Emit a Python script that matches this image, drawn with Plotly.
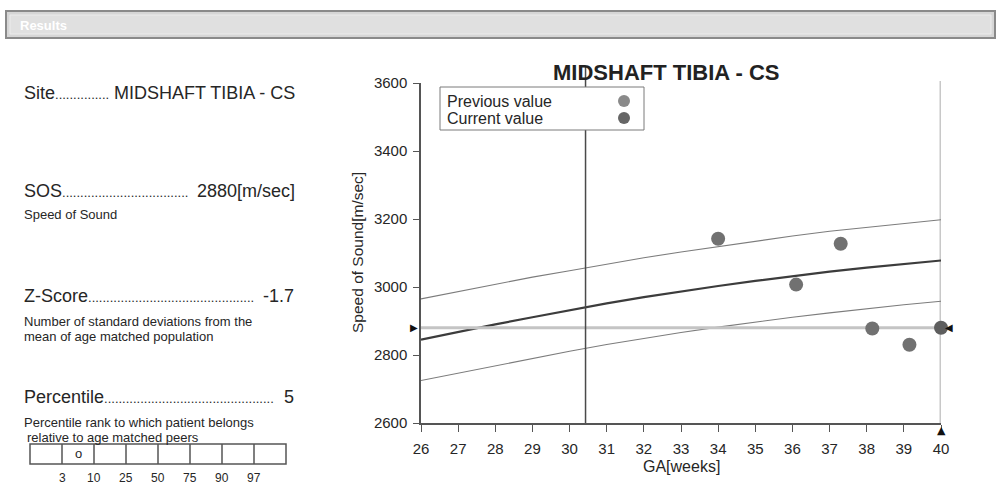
import plotly.graph_objects as go

# ---------------- data ----------------
site_name = "MIDSHAFT TIBIA - CS"
sos_value = 2880
z_score = -1.7
percentile = 5
percentile_bounds = [3, 10, 25, 50, 75, 90, 97]

weeks = [26, 27, 28, 29, 30, 31, 32, 33, 34, 35, 36, 37, 38, 39, 40]
mean_curve = [2845, 2868, 2890, 2911, 2932, 2952, 2970, 2987, 3003, 3018, 3032, 3045, 3057, 3068, 3078]
upper_curve = [2965, 2987, 3008, 3029, 3048, 3068, 3086, 3103, 3119, 3135, 3150, 3164, 3176, 3188, 3198]
lower_curve = [2725, 2747, 2769, 2790, 2811, 2831, 2849, 2866, 2882, 2897, 2911, 2924, 2937, 2948, 2958]

prev_ga = [34.0, 36.1, 37.3, 38.15, 39.15]
prev_sos = [3142, 3007, 3127, 2878, 2830]
current_ga = [40.0]
current_sos = [2880]
birth_ga = 30.43

y_ticks = [2600, 2800, 3000, 3200, 3400, 3600]
x_ticks = weeks

# ---------------- helpers ----------------
W, H = 1000, 485
FONT = "Liberation Sans, Arial, sans-serif"
TXT = "#262626"


def px(x):
    return x / W


def py(y):
    return (H - y) / H


fig = go.Figure()

# reference curves
fig.add_trace(go.Scatter(x=weeks, y=upper_curve, mode="lines",
                         line=dict(color="#7c7c7c", width=1.1), hoverinfo="skip"))
fig.add_trace(go.Scatter(x=weeks, y=lower_curve, mode="lines",
                         line=dict(color="#7c7c7c", width=1.1), hoverinfo="skip"))
fig.add_trace(go.Scatter(x=weeks, y=mean_curve, mode="lines",
                         line=dict(color="#3c3c3c", width=2.2), hoverinfo="skip"))
# current value horizontal line
fig.add_trace(go.Scatter(x=[weeks[0], weeks[-1]], y=[sos_value, sos_value], mode="lines",
                         line=dict(color="#c4c4c4", width=3), hoverinfo="skip"))
# measurement points
fig.add_trace(go.Scatter(x=prev_ga, y=prev_sos, mode="markers", cliponaxis=False,
                         marker=dict(size=14, color="#717171"), name="Previous value"))
fig.add_trace(go.Scatter(x=current_ga, y=current_sos, mode="markers", cliponaxis=False,
                         marker=dict(size=14, color="#5e5e5e"), name="Current value"))

shapes = []
annotations = []

# header bar
shapes.append(dict(type="rect", xref="paper", yref="paper", x0=px(6), x1=px(995), y0=py(38), y1=py(11),
                   fillcolor="#d6d6d6", line=dict(color="#8a8a8a", width=2), layer="below"))
shapes.append(dict(type="rect", xref="paper", yref="paper", x0=px(10), x1=px(991), y0=py(34), y1=py(15),
                   fillcolor="#e0e0e0", line=dict(color="#ececec", width=1), layer="below"))
annotations.append(dict(text="<b>Results</b>", xref="paper", yref="paper", x=px(18), y=py(25),
                        xanchor="left", yanchor="middle", showarrow=False,
                        font=dict(family=FONT, size=13, color="#ffffff")))

# vertical line at birth GA and at current GA
shapes.append(dict(type="line", xref="x", yref="paper", x0=birth_ga, x1=birth_ga,
                   y0=py(423), y1=py(66), line=dict(color="#4a4a4a", width=1.5)))
shapes.append(dict(type="line", xref="x", yref="paper", x0=current_ga[0], x1=current_ga[0],
                   y0=py(423), y1=py(81), line=dict(color="#c8c8c8", width=3), layer="below"))

# legend box
shapes.append(dict(type="rect", xref="paper", yref="paper", x0=px(440), x1=px(644), y0=py(130), y1=py(87),
                   fillcolor="white", line=dict(color="#7a7a7a", width=1)))
for yy, col in [(101, "#8a8a8a"), (118, "#666666")]:
    shapes.append(dict(type="circle", xref="paper", yref="paper",
                       x0=px(618), x1=px(630), y0=py(yy + 6), y1=py(yy - 6),
                       fillcolor=col, line=dict(color=col, width=0)))
for yy, t in [(101, "Previous value"), (118, "Current value")]:
    annotations.append(dict(text=t, xref="paper", yref="paper", x=px(445), y=py(yy),
                            xanchor="left", yanchor="middle", showarrow=False,
                            font=dict(family=FONT, size=16, color=TXT)))

# chart title
annotations.append(dict(text="<b>MIDSHAFT TIBIA - CS</b>", xref="paper", yref="paper", x=px(666), y=py(72),
                        xanchor="center", yanchor="middle", showarrow=False,
                        font=dict(family=FONT, size=22, color="#222222")))
# axis titles
annotations.append(dict(text="Speed of Sound[m/sec]", xref="paper", yref="paper", x=px(358), y=py(253),
                        xanchor="center", yanchor="middle", textangle=-90, showarrow=False,
                        font=dict(family=FONT, size=15.5, color=TXT)))
annotations.append(dict(text="GA[weeks]", xref="paper", yref="paper", x=px(681), y=py(466),
                        xanchor="center", yanchor="middle", showarrow=False,
                        font=dict(family=FONT, size=16, color=TXT)))

# arrow markers for the current value
annotations.append(dict(text="▶", xref="x", yref="y", x=weeks[0], y=sos_value, xshift=-7,
                        showarrow=False, font=dict(family="DejaVu Sans", size=10, color="#111")))
annotations.append(dict(text="◀", xref="x", yref="y", x=current_ga[0], y=sos_value, xshift=8,
                        showarrow=False, font=dict(family="DejaVu Sans", size=10, color="#111")))
annotations.append(dict(text="▲", xref="x", yref="y", x=current_ga[0], y=y_ticks[0], yshift=-7,
                        showarrow=False, font=dict(family="DejaVu Sans", size=11, color="#111")))


# ---------------- left panel ----------------
def leader(label, dots, value, y, right):
    annotations.append(dict(text=label + "<span style='font-size:13px'>" + "." * dots + "</span>",
                            xref="paper", yref="paper", x=px(22), y=py(y),
                            xanchor="left", yanchor="middle", showarrow=False,
                            font=dict(family=FONT, size=18, color=TXT)))
    annotations.append(dict(text=value, xref="paper", yref="paper", x=px(right), y=py(y),
                            xanchor="right", yanchor="middle", showarrow=False,
                            font=dict(family=FONT, size=18, color=TXT)))


def small(text, x, y):
    annotations.append(dict(text=text, xref="paper", yref="paper", x=px(x), y=py(y),
                            xanchor="left", yanchor="middle", showarrow=False,
                            font=dict(family=FONT, size=13, color=TXT)))


leader("Site", 15, site_name, 93, 297)
leader("SOS", 35, f"{sos_value}[m/sec]", 191, 297)
small("Speed of Sound", 22, 214)
leader("Z-Score", 46, f"{z_score}", 296, 296)
small("Number of standard deviations from the", 22, 321)
small("mean of age matched population", 22, 336)
leader("Percentile", 47, f"{percentile}", 397, 296)
small("Percentile rank to which patient belongs", 22, 422)
small("relative to age matched peers", 25, 437)

# percentile box
box_x0, cell_w = 30, 32
n_cells = len(percentile_bounds) + 1
shapes.append(dict(type="rect", xref="paper", yref="paper", x0=px(box_x0), x1=px(box_x0 + cell_w * n_cells),
                   y0=py(464), y1=py(444), line=dict(color="#555555", width=1.5), fillcolor="white"))
for i, b in enumerate(percentile_bounds):
    xx = box_x0 + cell_w * (i + 1)
    shapes.append(dict(type="line", xref="paper", yref="paper", x0=px(xx), x1=px(xx),
                       y0=py(464), y1=py(444), line=dict(color="#555555", width=1.5)))
    annotations.append(dict(text=str(b), xref="paper", yref="paper", x=px(xx), y=py(478),
                            xanchor="center", yanchor="middle", showarrow=False,
                            font=dict(family=FONT, size=12, color=TXT)))
cell_idx = sum(1 for b in percentile_bounds if percentile >= b)
annotations.append(dict(text="o", xref="paper", yref="paper",
                        x=px(box_x0 + cell_w * cell_idx + cell_w / 2), y=py(453),
                        xanchor="center", yanchor="middle", showarrow=False,
                        font=dict(family=FONT, size=13, color=TXT)))

fig.update_layout(
    template="none",
    width=W, height=H, autosize=False,
    margin=dict(l=0, r=0, t=0, b=0, pad=0),
    paper_bgcolor="white", plot_bgcolor="white",
    showlegend=False,
    shapes=shapes, annotations=annotations,
    xaxis=dict(domain=[px(421), px(941)], range=[26, 40], tickvals=x_ticks,
               ticks="outside", ticklen=7, tickcolor="#555", tickwidth=1.3,
               showline=True, linecolor="#555", linewidth=1.5, automargin=False,
               showgrid=False, zeroline=False, ticklabelstandoff=4,
               tickfont=dict(family=FONT, size=15, color=TXT)),
    yaxis=dict(domain=[py(423), py(83)], range=[2600, 3600], tickvals=y_ticks,
               ticks="outside", ticklen=6, tickcolor="#555", tickwidth=1.3,
               showline=True, linecolor="#555", linewidth=1.5, automargin=False,
               showgrid=False, zeroline=False, ticklabelstandoff=3,
               tickfont=dict(family=FONT, size=15, color=TXT)),
)

fig.write_html("out.html", config={"displayModeBar": False},
               post_script="document.body.style.margin='0';document.body.style.overflow='hidden';")
